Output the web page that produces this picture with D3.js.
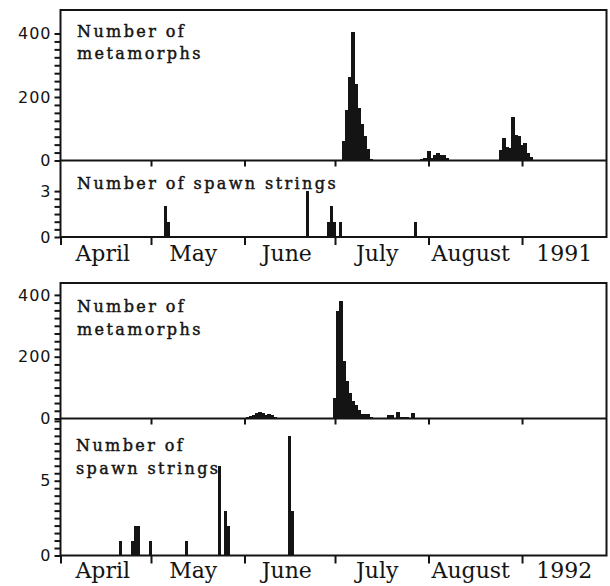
<!DOCTYPE html>
<html>
<head>
<meta charset="utf-8">
<script src="https://cdn.jsdelivr.net/npm/d3@7"></script>
<style>
  body { margin: 0; background: #fff; }
  svg { display: block; }
</style>
</head>
<body>
<div id="chart"></div>
<script>
// ---- data ----
// metamorphs per day, as runs of consecutive days
const meta1991 = [
  { start: "1991-07-04", counts: [62, 160, 262, 405, 240, 165, 115, 78, 36, 5] },
  { start: "1991-07-30", counts: [5, 8, 29, 8, 16, 24, 16, 16, 8] },
  { start: "1991-08-25", counts: [32, 70, 42, 40, 137, 80, 78, 48, 55, 24, 10] }
];
const spawn1991 = [
  ["1991-05-06", 2], ["1991-05-07", 1], ["1991-06-22", 3],
  ["1991-06-29", 1], ["1991-06-30", 2], ["1991-07-01", 1],
  ["1991-07-03", 1], ["1991-07-28", 1]
];
const meta1992 = [
  { start: "1992-06-02", counts: [6, 8, 10, 18, 20, 18, 10, 14, 12, 6, 3] },
  { start: "1992-07-01", counts: [67, 347, 380, 186, 121, 83, 58, 43, 29, 13, 13, 13, 6] },
  { start: "1992-07-19", counts: [12, 12, 3, 22, 5, 5, 5, 3, 17] }
];
const spawn1992 = [
  ["1992-04-21", 1], ["1992-04-25", 1], ["1992-04-26", 2], ["1992-04-27", 2],
  ["1992-05-01", 1], ["1992-05-13", 1], ["1992-05-24", 6], ["1992-05-26", 3],
  ["1992-05-27", 2], ["1992-06-16", 8], ["1992-06-17", 3]
];
const monthNames = ["April", "May", "June", "July", "August"];
const metaLabelTicks = [0, 200, 400];
const spawnLabelTicks1991 = [0, 3];
const spawnLabelTicks1992 = [0, 5];

// ---- layout ----
const width = 610, height = 586;
const left = 60.5, right = 606.5;

const figures = [
  { year: 1991, top: 10, mid: 160.5, bottom: 237, metaMax: 474, spawnMax: 5, spawnTickMax: 3,
    meta: meta1991, spawn: spawn1991, spawnLabels: spawnLabelTicks1991,
    metaText: [[77, 37, "Number of"], [77, 59, "metamorphs"]],
    spawnText: [[77, 189, "Number of spawn strings"]], monthY: 261 },
  { year: 1992, top: 283, mid: 418.5, bottom: 555.5, metaMax: 438.5, spawnMax: 9.16, spawnTickMax: 9,
    meta: meta1992, spawn: spawn1992, spawnLabels: spawnLabelTicks1992,
    metaText: [[77, 312, "Number of"], [77, 335, "metamorphs"]],
    spawnText: [[76, 451, "Number of"], [76, 474, "spawn strings"]], monthY: 578 }
];

const svg = d3.select("#chart").append("svg")
  .attr("width", width)
  .attr("height", height);

const ink = "#141414";

figures.forEach(f => {
  const g = svg.append("g");
  const start = new Date(Date.UTC(f.year, 3, 1));
  const end = new Date(Date.UTC(f.year, 8, 29));
  const x = d3.scaleUtc().domain([start, end]).range([left, right]);
  const dayW = x(d3.utcDay.offset(start, 1)) - x(start);
  // snap each day's bar to whole pixels so neighbours touch without seams
  const barL = d => Math.floor(x(d) - dayW / 2);
  const barR = d => Math.ceil(x(d) + dayW / 2);

  const yMeta = d3.scaleLinear().domain([0, f.metaMax]).range([f.mid, f.top]);
  const ySpawn = d3.scaleLinear().domain([0, f.spawnMax]).range([f.bottom, f.mid]);

  // metamorph bars
  const metaBars = [];
  f.meta.forEach(run => {
    const d0 = new Date(run.start + "T00:00:00Z");
    run.counts.forEach((c, i) => metaBars.push({ date: d3.utcDay.offset(d0, i), value: c }));
  });
  g.append("g").selectAll("rect")
    .data(metaBars)
    .join("rect")
      .attr("x", d => barL(d.date))
      .attr("width", d => barR(d.date) - barL(d.date))
      .attr("y", d => yMeta(d.value))
      .attr("height", d => yMeta(0) - yMeta(d.value))
      .attr("fill", ink)
      .attr("shape-rendering", "crispEdges");

  // spawn string bars
  const spawnBars = f.spawn.map(([d, v]) => ({ date: new Date(d + "T00:00:00Z"), value: v }));
  g.append("g").selectAll("rect")
    .data(spawnBars)
    .join("rect")
      .attr("x", d => barL(d.date))
      .attr("width", d => barR(d.date) - barL(d.date) - 1)
      .attr("y", d => ySpawn(d.value))
      .attr("height", d => ySpawn(0) - ySpawn(d.value))
      .attr("fill", ink)
      .attr("shape-rendering", "crispEdges");

  // frame
  g.append("path")
    .attr("d", `M${left},${f.top}H${right}V${f.bottom}H${left}Z M${left},${f.mid}H${right}`)
    .attr("fill", "none")
    .attr("stroke", ink)
    .attr("stroke-width", 2);

  // month ticks
  const months = d3.utcMonth.range(start, d3.utcDay.offset(d3.utcMonth.offset(start, 5), 1));
  const bottomAxis = d3.axisBottom(x).tickValues(months).tickSize(8).tickFormat("");
  g.append("g").attr("transform", `translate(0,${f.bottom})`).call(bottomAxis)
    .call(s => s.select(".domain").remove())
    .call(s => s.selectAll("line").attr("stroke", ink).attr("stroke-width", 2));
  const midAxis = d3.axisBottom(x).tickValues(months.slice(1)).tickSize(6).tickFormat("");
  g.append("g").attr("transform", `translate(0,${f.mid})`).call(midAxis)
    .call(s => s.select(".domain").remove())
    .call(s => s.selectAll("line").attr("stroke", ink).attr("stroke-width", 2));

  // month labels, centred in each month, year in September slot
  const labels = monthNames.map((m, i) => ({ t: m, d: d3.utcDay.offset(months[i], 14) }));
  labels.push({ t: String(f.year), d: d3.utcDay.offset(months[5], 14) });
  g.append("g").selectAll("text")
    .data(labels)
    .join("text")
      .attr("x", d => x(d.d))
      .attr("y", f.monthY)
      .attr("text-anchor", "middle")
      .attr("font-family", "DejaVu Serif, serif")
      .attr("font-size", 22)
      .attr("fill", ink)
      .text(d => d.t);

  // y axes
  const yAxisMeta = d3.axisLeft(yMeta)
    .tickValues(d3.range(0, 401, 25))
    .tickSize(6)
    .tickFormat(d => metaLabelTicks.includes(d) ? d : "");
  const yAxisSpawn = d3.axisLeft(ySpawn)
    .tickValues(d3.range(0, f.spawnTickMax + 0.01, 0.5))
    .tickSize(6)
    .tickFormat(d => f.spawnLabels.includes(d) ? d : "");
  [yAxisMeta, yAxisSpawn].forEach(ax => {
    g.append("g").attr("transform", `translate(${left},0)`).call(ax)
      .call(s => s.select(".domain").remove())
      .call(s => s.selectAll("line").attr("stroke", ink).attr("stroke-width", 2))
      .call(s => s.selectAll("text")
        .attr("x", -9)
        .attr("font-family", "DejaVu Sans, sans-serif")
        .attr("font-size", 16)
        .attr("letter-spacing", 1)
        .attr("fill", ink));
  });

  // panel captions
  g.append("g").selectAll("text")
    .data(f.metaText.concat(f.spawnText))
    .join("text")
      .attr("x", d => d[0])
      .attr("y", d => d[1])
      .attr("font-family", "DejaVu Serif, serif")
      .attr("font-size", 16)
      .attr("letter-spacing", 2.4)
      .attr("fill", ink)
      .attr("stroke", ink)
      .attr("stroke-width", 0.45)
      .text(d => d[2]);
});
</script>
</body>
</html>
